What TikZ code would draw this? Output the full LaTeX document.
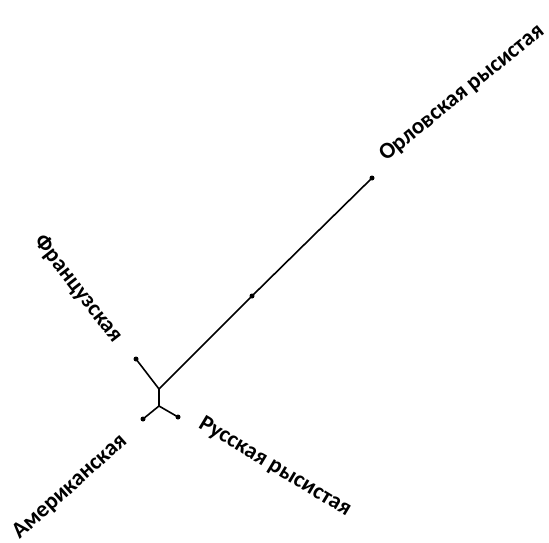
\documentclass[tikz,border=0pt]{standalone}
\usepackage{fontspec}
\setmainfont{Carlito}
\begin{document}
\begin{tikzpicture}[x=1pt,y=-1pt,
  br/.style={line width=1.6pt,black},
  dot/.style={circle,fill=black,inner sep=0pt,minimum size=5pt},
  lbl/.style={font=\bfseries\fontsize{23}{26}\selectfont,inner sep=0pt}]
\useasboundingbox[fill=white] (0,0) rectangle (549,543);
\node[dot] (orl) at (372,178) {};
\node[dot] (mid) at (252,296) {};
\node[dot] (fr) at (136,359) {};
\node[dot] (am) at (143,419) {};
\node[dot] (ru) at (178,417) {};
\coordinate (j1) at (159,389);
\coordinate (j2) at (159,406);
\draw[br] (orl.center) -- (mid.center) -- (j1) -- (fr.center);
\draw[br] (j1) -- (j2) -- (am.center);
\draw[br] (j2) -- (ru.center);
\node[lbl,rotate=39] (lorl) at (462,93) {Орловская рысистая};
\node[lbl,rotate=-52] (lfr) at (78,289) {Французская};
\node[lbl,rotate=42] (lam) at (70,487) {Американская};
\node[lbl,rotate=-31] (lru) at (275,467) {Русская рысистая};
\end{tikzpicture}
\end{document}
